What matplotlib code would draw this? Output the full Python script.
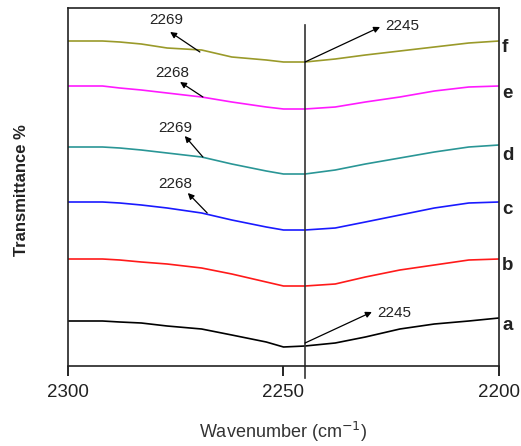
import matplotlib
matplotlib.use("Agg")
import matplotlib.pyplot as plt

plt.rcParams['font.family'] = ['Liberation Sans', 'DejaVu Sans']

wavenumber = [2300, 2292, 2288, 2283, 2277, 2269, 2262, 2254, 2250, 2245,
              2238, 2231, 2223, 2215, 2207, 2200]

curve_a = [45, 45, 44, 43, 40, 37, 31, 24, 19, 20, 23, 29, 37, 42, 45, 48]
curve_b = [107, 107, 106, 104, 102, 98, 92, 84, 80, 80, 82, 89, 96, 101, 106, 107]
curve_c = [164, 164, 163, 161, 158, 153, 146, 139, 136, 136, 138, 144, 151, 158, 163, 164]
curve_d = [219, 219, 218, 216, 213, 209, 202, 195, 192, 192, 196, 202, 208, 214, 219, 221]
curve_e = [280, 280, 278, 276, 273, 269, 264, 259, 257, 257, 259, 264, 269, 275, 279, 280]
curve_f = [325, 325, 324, 322, 318, 316, 309, 306, 304, 304, 307, 311, 315, 319, 323, 325]

series_labels = ['a', 'b', 'c', 'd', 'e', 'f']
series_colors = ['#000000', '#ff1a1a', '#1a1aff', '#2a9696', '#ff1aff', '#9a9a2a']
label_y = [40, 100, 156, 211, 273, 319]

tick_values = [2300, 2250, 2200]
marker_wn = 2245

# annotations: (text, tail on curve, arrow head, text position, ha)
annotations = [
    ('2269', (2269.4, 314), (2276.3, 334), (2277.3, 346), 'center'),
    ('2245', (2245.0, 304), (2227.6, 339), (2226.5, 340), 'left'),
    ('2268', (2268.7, 269), (2274.0, 284), (2275.9, 293), 'center'),
    ('2269', (2268.7, 209), (2272.9, 230), (2275.0, 238), 'center'),
    ('2268', (2267.7, 153), (2272.2, 173), (2275.0, 182), 'center'),
    ('2245', (2245.0, 23), (2229.5, 54), (2228.3, 53), 'left'),
]

fig = plt.figure(figsize=(5.21, 4.46), dpi=100)
ax = fig.add_axes([68 / 521, 80 / 446, 431 / 521, 358 / 446])

curves = [curve_a, curve_b, curve_c, curve_d, curve_e, curve_f]
for ys, col, lab, ly in zip(curves, series_colors, series_labels, label_y):
    ax.plot(wavenumber, ys, color=col, lw=1.2)
    ax.text(1.007, ly, lab, transform=ax.get_yaxis_transform(), ha='left',
            va='center', fontsize=13.5, fontweight='bold', color='#222222')

ax.plot([marker_wn, marker_wn], [341, -12], color='#333333', lw=1.2, clip_on=False)

for txt, tail, head, tpos, ha in annotations:
    ax.annotate('', xy=head, xytext=tail,
                arrowprops=dict(arrowstyle='-|>', color='black', lw=0.9,
                                mutation_scale=9, shrinkA=0, shrinkB=0))
    ax.text(tpos[0], tpos[1], txt, ha=ha, va='center', fontsize=11, color='#222222')

ax.set_xlim(2300, 2200)
ax.set_ylim(0, 358)
ax.set_xticks(tick_values)
ax.set_xticklabels([str(t) for t in tick_values], fontsize=13.5, color='#222222')
ax.set_yticks([])
ax.tick_params(axis='x', direction='out', length=7, width=1.2, pad=6)
for s in ax.spines.values():
    s.set_linewidth(1.2)
    s.set_color('#222222')

ax.set_xlabel('Wavenumber (cm$^{-1}$)', fontsize=13, color='#333333', va='center')
ax.xaxis.set_label_coords(0.5, (366 - 432) / 358)
ax.set_ylabel('Transmittance %', fontsize=12, fontweight='bold', color='#222222', va='center')
ax.yaxis.set_label_coords((21 - 68) / 431, (366 - 190) / 358)

fig.savefig('out.png', dpi=100)
